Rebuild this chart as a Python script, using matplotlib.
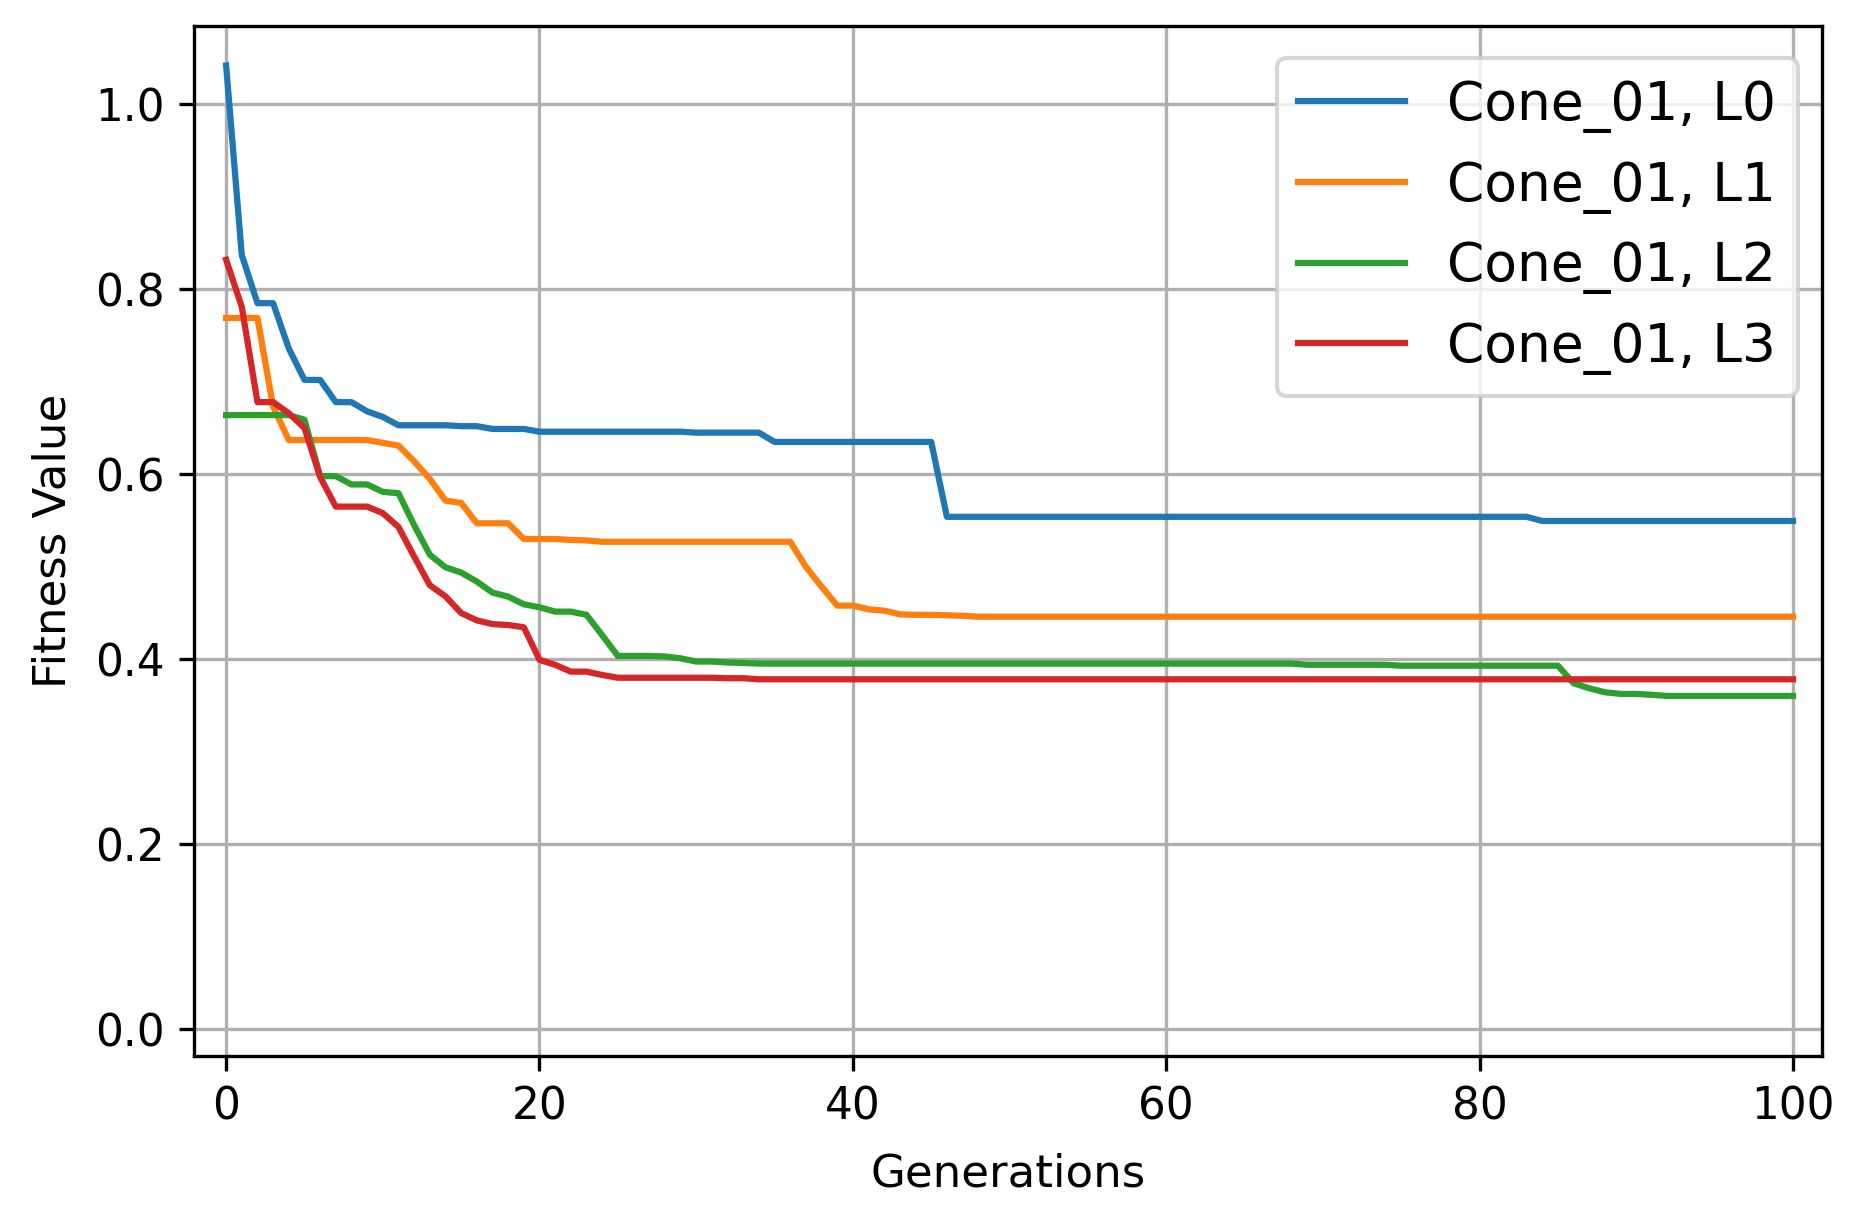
import matplotlib
matplotlib.use("Agg")
import matplotlib.pyplot as plt
import numpy as np

generations = list(range(101))

l0_head = [1.042, 0.837, 0.785, 0.785, 0.736, 0.702, 0.702, 0.678, 0.678, 0.668,
           0.662, 0.653, 0.653, 0.653, 0.653, 0.652, 0.652, 0.649, 0.649, 0.649]
l0 = (l0_head + [0.646] * 10 + [0.645] * 5 + [0.635] * 11 + [0.554] * 38 + [0.5495] * 17)

l1_head = [0.769, 0.769, 0.769, 0.673, 0.637, 0.637, 0.637, 0.637, 0.637, 0.637,
           0.634, 0.631, 0.614, 0.595, 0.5715, 0.569, 0.547, 0.547, 0.547, 0.530,
           0.530, 0.530, 0.529, 0.5285]
l1 = (l1_head + [0.527] * 13 + [0.500, 0.4785, 0.458, 0.458, 0.454, 0.4525,
                               0.4486, 0.448, 0.448, 0.4475, 0.447] + [0.446] * 53)

l2_head = [0.664, 0.664, 0.664, 0.664, 0.664, 0.659, 0.598, 0.598, 0.589, 0.589,
           0.581, 0.5795, 0.545, 0.513, 0.4994, 0.4937, 0.484, 0.472, 0.4677, 0.4594,
           0.4562, 0.4515, 0.4515, 0.448, 0.426, 0.4036, 0.4036, 0.4036, 0.403, 0.401,
           0.3975, 0.3975, 0.3965, 0.396]
l2 = (l2_head + [0.3953] * 35 + [0.394] * 6 + [0.393] * 11
      + [0.374, 0.3686, 0.3643, 0.3625, 0.3625, 0.3615] + [0.3603] * 9)

l3_head = [0.832, 0.781, 0.678, 0.678, 0.666, 0.650, 0.597, 0.565, 0.565, 0.565,
           0.558, 0.543, 0.511, 0.480, 0.468, 0.450, 0.442, 0.438, 0.437, 0.4346,
           0.3993, 0.394, 0.3866, 0.3866, 0.383, 0.380, 0.380, 0.380, 0.380, 0.380,
           0.380, 0.380, 0.3795, 0.3795]
l3 = l3_head + [0.3783] * 67

labels = ["Cone_01, L0", "Cone_01, L1", "Cone_01, L2", "Cone_01, L3"]
series = [l0, l1, l2, l3]

fig = plt.figure(figsize=(1865 / 300, 1225 / 300), dpi=300)
ax = fig.add_axes([194 / 1865, 1 - 1056 / 1225, (1822 - 194) / 1865, (1056 - 26) / 1225])

for vals, lab in zip(series, labels):
    ax.plot(generations, vals, label=lab, linewidth=1.5)

ax.set_xlim(-2.05, 101.85)
ax.set_ylim(-0.029, 1.0847)
ax.set_xticks([0, 20, 40, 60, 80, 100])
ax.set_yticks([0.0, 0.2, 0.4, 0.6, 0.8, 1.0])
ax.grid(True)
ax.set_xlabel("Generations", fontsize=10.8, labelpad=5.8)
ax.set_ylabel("Fitness Value", fontsize=10.8, labelpad=5)
ax.tick_params(labelsize=10.5)
ax.legend(loc="upper right", fontsize=12.8, bbox_to_anchor=(1.0015, 0.9953))

fig.savefig("out.png", dpi=300)
